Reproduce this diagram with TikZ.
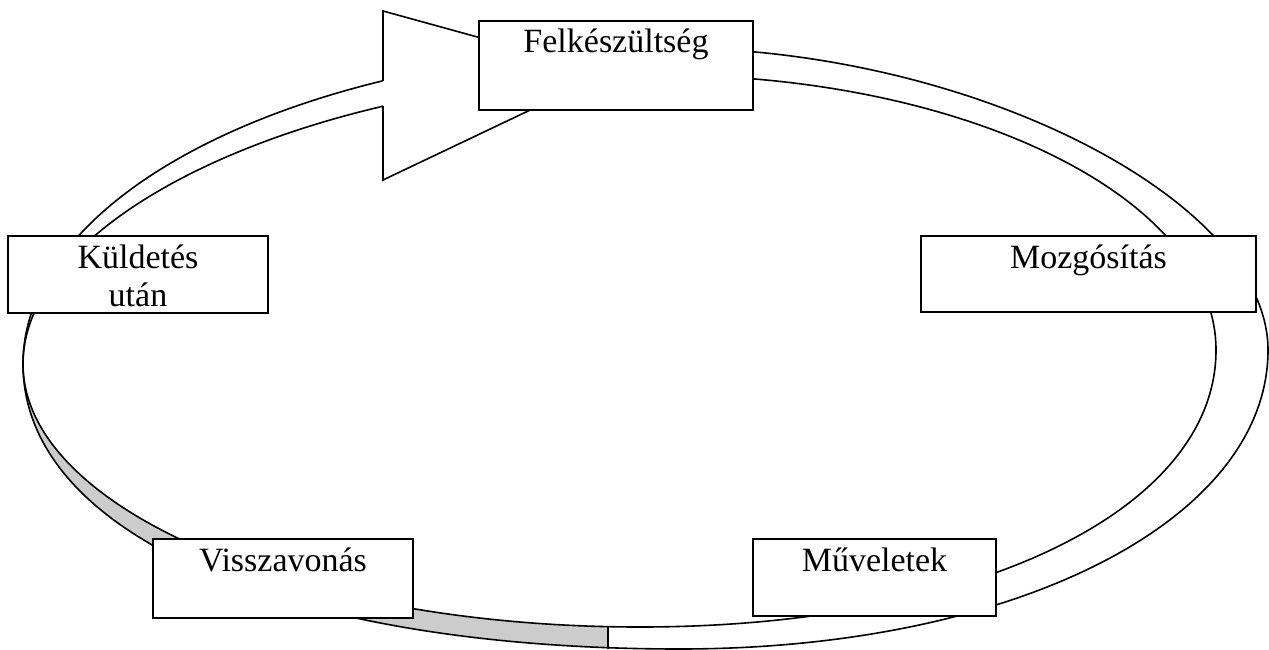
\documentclass[tikz,border=0pt]{standalone}
\usepackage{fontspec}
\setmainfont{Liberation Serif}
\definecolor{backside}{HTML}{CCCCCC}
\newcommand{\cellfont}{\fontsize{34}{38}\selectfont}
\newcommand{\outerring}{(23,364) .. controls (23,189.6) and (312.9,48) .. (670,48)
    .. controls (969,48) and (1268,199) .. (1268,350)
    .. controls (1268,520.4) and (1015.2,649) .. (680,649)
    .. controls (285.8,649) and (23,535) .. (23,364) -- cycle}
\newcommand{\innerring}{(23,364) .. controls (23,210.8) and (322.4,75) .. (660,75)
    .. controls (966.9,75) and (1216,198.2) .. (1216,350)
    .. controls (1216,510.7) and (974.1,627) .. (640,627)
    .. controls (299.4,627) and (23,509.2) .. (23,364) -- cycle}

\begin{document}
\begin{tikzpicture}[
        x=1pt, y=-1pt, % pixel coordinates, y downwards
        ring/.style={draw, line width=1.6pt},
        cell/.style={draw, line width=2pt, fill=white, anchor=north west,
            inner sep=0pt, align=center, text height=32pt, font=\cellfont}, % boxes
    ]
    \useasboundingbox (0,0) rectangle (1269,650);

    % back side of the band
    \begin{scope}
        \clip (0,364) rectangle (608,652);
        \fill[backside, even odd rule] \outerring \innerring;
    \end{scope}

    % band edges
    \draw[ring] \outerring;
    \draw[ring] \innerring;
    \draw[ring] (608,627) -- (608,649); % tail

    % arrow head
    \filldraw[ring, fill=white] (383,81) -- (383,11) -- (608,73) -- (383,180) -- (383,106);

    \node[cell, text width=274pt, text depth=57pt] (felk) at (478,20) {Felkészültség};
    \node[cell, text width=335pt, text depth=44pt] (mozg) at (920,235) {Mozgósítás};
    \node[cell, text width=243pt, text depth=45pt] (muv) at (752,538) {Műveletek};
    \node[cell, text width=260pt, text depth=47pt] (vissza) at (152,538) {Visszavonás};
    \node[cell, text width=260pt, text depth=45pt] (kuld) at (7,235) {Küldetés\\után};

\end{tikzpicture}
\end{document}
